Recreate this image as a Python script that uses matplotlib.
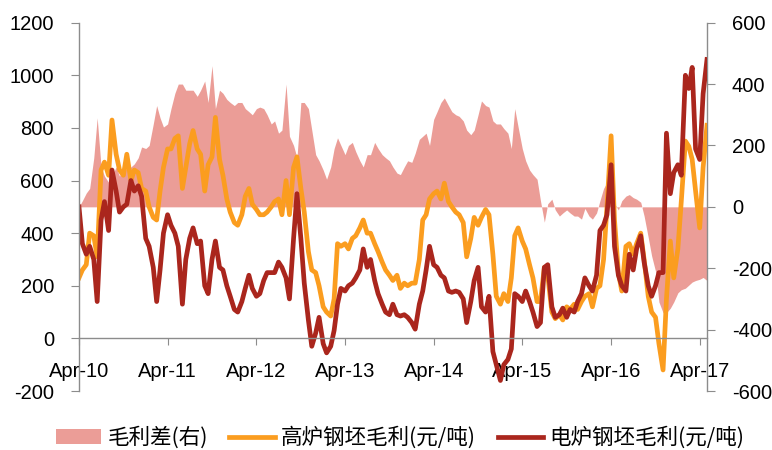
import numpy as np
import pandas as pd
import matplotlib
matplotlib.use('Agg')
import matplotlib.pyplot as plt
import matplotlib.dates as mdates
from matplotlib.patches import Patch
from matplotlib.lines import Line2D
from matplotlib.font_manager import FontProperties

plt.rcParams['axes.unicode_minus'] = False

# semi-monthly observations, Apr-2010 .. May-2017
dates = pd.date_range('2010-04-01', periods=171, freq='SMS')

# 高炉钢坯毛利 (元/吨), left axis
bf_margin = [
    230, 260, 280, 400, 390, 310, 640, 670, 620, 830, 700, 640, 620, 700, 600, 640,
    630, 570, 560, 500, 460, 450, 560, 650, 720, 720, 760, 770, 570, 650, 740, 790,
    720, 700, 560, 660, 690, 840, 680, 620, 530, 480, 440, 430, 470, 540, 570, 510,
    490, 470, 470, 480, 500, 520, 530, 470, 600, 470, 650, 690, 570, 480, 330, 260,
    250, 200, 120, 100, 85, 150, 360, 350, 360, 340, 380, 390, 420, 450, 400, 400,
    360, 330, 290, 260, 240, 220, 240, 190, 210, 200, 210, 210, 300, 450, 470, 530,
    550, 560, 530, 590, 520, 500, 480, 470, 440, 310, 380, 460, 430, 460, 490, 470,
    320, 160, 130, 170, 140, 230, 390, 420, 370, 340, 280, 230, 140, 140, 270, 240,
    100, 75, 90, 70, 120, 110, 130, 110, 140, 160, 170, 120, 190, 200, 300, 500,
    770, 450, 250, 180, 350, 360, 320, 360, 400, 300, 160, 100, 80, -20, -120, 150,
    370, 230, 340, 520, 750, 730, 680, 560, 420, 650, 810,
]

# 电炉钢坯毛利 (元/吨), left axis
eaf_margin = [
    500, 360, 320, 350, 300, 140, 450, 520, 410, 640, 560, 480, 500, 510, 600, 560,
    580, 540, 380, 350, 270, 140, 260, 400, 470, 430, 400, 350, 130, 300, 380, 420,
    360, 370, 200, 170, 300, 370, 270, 260, 200, 160, 110, 100, 140, 190, 240, 190,
    160, 170, 220, 250, 250, 250, 290, 270, 230, 150, 380, 550, 380, 210, 70, -30,
    20, 80, -20, -55, -30, 30, 130, 190, 180, 200, 210, 230, 260, 340, 270, 300,
    220, 170, 130, 100, 90, 130, 90, 85, 90, 80, 60, 35, 130, 180, 260, 350,
    280, 270, 240, 230, 180, 175, 180, 175, 150, 60, 140, 220, 270, 120, 100, 160,
    -50, -100, -160, -100, -80, -40, 170, 160, 140, 180, 140, 100, 45, 60, 270, 280,
    120, 80, 90, 115, 80, 110, 100, 140, 170, 230, 200, 180, 240, 410, 430, 470,
    660, 350, 240, 200, 180, 320, 260, 340, 390, 290, 200, 160, 200, 250, 250, 780,
    550, 630, 660, 620, 1000, 950, 1030, 720, 680, 930, 1060,
]

# 毛利差 (右轴)
spread = [
    0, 20, 45, 60, 160, 290, 130, 100, 80, 100, 130, 100, 130, 120, 130, 140,
    160, 195, 190, 200, 270, 330, 290, 260, 270, 320, 370, 400, 400, 380, 380, 380,
    360, 380, 410, 340, 460, 320, 380, 370, 350, 340, 330, 340, 340, 320, 310, 300,
    320, 325, 320, 300, 270, 280, 240, 250, 400, 230, 200, 160, 340, 340, 320, 250,
    170, 150, 120, 90, 130, 190, 225, 200, 170, 200, 210, 180, 150, 130, 170, 170,
    210, 190, 170, 160, 150, 130, 110, 105, 130, 150, 145, 175, 220, 230, 240, 200,
    285, 310, 340, 355, 330, 310, 300, 295, 280, 250, 235, 250, 300, 345, 330, 325,
    280, 270, 270, 255, 240, 190, 320, 260, 190, 150, 120, 105, 90, 20, -50, 10,
    25, -10, -30, -20, -10, -20, -30, -30, -40, -5, -30, -40, -20, 20, 60, 80,
    60, 10, -10, 20, 35, 40, 30, 25, 15, -30, -100, -160, -210, -310, -345, -345,
    -330, -310, -280, -270, -265, -255, -245, -240, -236, -230, -240,
]

c_area = '#eb9d97'
c_bf = '#fb9d1f'
c_eaf = '#aa261d'
c_axis = '#8c8c8c'

tick_font = 'Liberation Sans'
cjk = ['Noto Sans CJK SC', 'DejaVu Sans']

fig = plt.figure(figsize=(7.72, 4.5), dpi=100)
ax1 = fig.add_axes([0.1023, 0.1311, 0.8135, 0.8185])
ax2 = ax1.twinx()

ax2.fill_between(dates, 0, spread, color=c_area, lw=0)
ax1.plot(dates, bf_margin, color=c_bf, lw=3.4, solid_joinstyle='round')
ax1.plot(dates, eaf_margin, color=c_eaf, lw=3.4, solid_joinstyle='round')

ax1.set_zorder(2)
ax2.set_zorder(1)
ax1.patch.set_visible(False)

ax1.set_xlim(dates[0], dates[-1])
ax1.set_ylim(-200, 1200)
ax1.set_yticks(np.arange(-200, 1201, 200))
ax2.set_ylim(-600, 600)
ax2.set_yticks(np.arange(-600, 601, 200))

ax1.xaxis.set_major_locator(mdates.MonthLocator(bymonth=4, bymonthday=1))
ax1.xaxis.set_major_formatter(mdates.DateFormatter('%b-%y'))

for s in ['top', 'right']:
    ax1.spines[s].set_visible(False)
ax1.spines['bottom'].set_position(('data', 0))
for s in ['top', 'left', 'bottom']:
    ax2.spines[s].set_visible(False)
for sp in [ax1.spines['left'], ax1.spines['bottom'], ax2.spines['right']]:
    sp.set_color(c_axis)
    sp.set_linewidth(1.0)

ax1.tick_params(axis='y', length=6, color=c_axis, pad=12, labelsize=14.5)
ax1.tick_params(axis='x', length=5, color=c_axis, pad=12, labelsize=14.5)
ax2.tick_params(axis='y', length=6, color=c_axis, pad=12, labelsize=14.5)
for lab in ax1.get_xticklabels() + ax1.get_yticklabels() + ax2.get_yticklabels():
    lab.set_fontfamily(tick_font)

handles = [
    Patch(facecolor=c_area, edgecolor='none'),
    Line2D([0], [0], color=c_bf, lw=3.4),
    Line2D([0], [0], color=c_eaf, lw=3.4),
]
labels = ['毛利差(右)', '高炉钢坯毛利(元/吨)', '电炉钢坯毛利(元/吨)']
fig.legend(handles, labels, loc='center', bbox_to_anchor=(0.518, 0.027), ncol=3,
           frameon=False, prop=FontProperties(family=cjk, size=15.5),
           handlelength=2.1, handletextpad=0.3, columnspacing=1.0)

fig.savefig('out.png', dpi=100)
